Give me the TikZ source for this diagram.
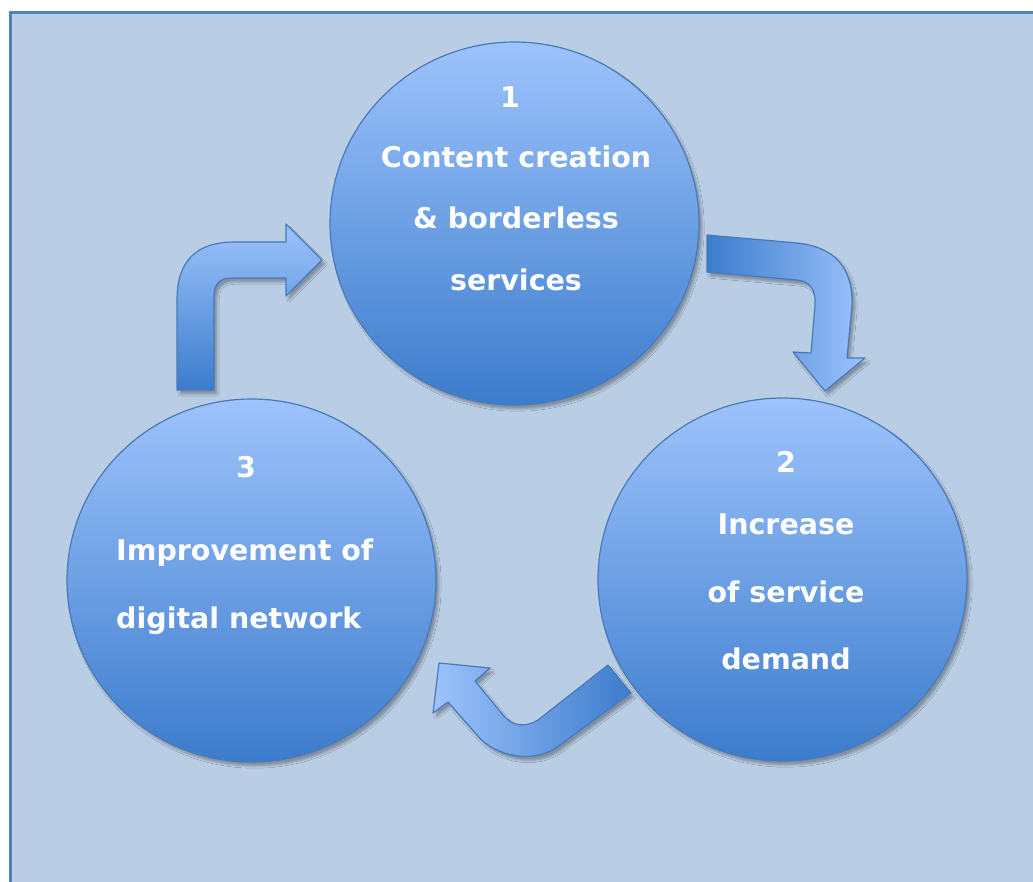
\documentclass[tikz,border=0pt]{standalone}
\usepackage{fontspec}
\setmainfont{DejaVu Sans}
\usetikzlibrary{shapes.geometric,shadows.blur}
\definecolor{blight}{RGB}{157,195,252}
\definecolor{bdark}{RGB}{60,124,204}
\definecolor{bline}{RGB}{72,122,186}
\definecolor{bgfill}{RGB}{185,205,228}
\definecolor{bgline}{RGB}{79,129,189}
\begin{document}
\begin{tikzpicture}[x=1pt,y=-1pt]

% size of each stage
\def\sw{369}
\def\sh{363}
% style definitions
\tikzstyle{stage} = [
	ellipse, draw=bline, line width=1.2pt,
	top color=blight, bottom color=bdark,
	minimum width=\sw pt, minimum height=\sh pt, inner sep=0pt,
	blur shadow={shadow xshift=3pt,shadow yshift=-4pt,shadow opacity=30} ];
\tikzstyle{cyclearrow} = [
	draw=bline, line width=1.2pt, line join=round,
	blur shadow={shadow xshift=3pt,shadow yshift=-4pt,shadow opacity=30} ];
\tikzstyle{num} = [text=white, inner sep=0pt, font=\bfseries\fontsize{28.5}{34}\selectfont];
\tikzset{txt/.style={text=white, inner sep=0pt, align=center,
	font=\bfseries\fontsize{28.5}{#1}\selectfont}}

\useasboundingbox (0,0) rectangle (1033,881);
\clip (0,0) rectangle (1033,881);

% frame
\draw[bgline, fill=bgfill, line width=3pt] (10,12) rectangle (1060,900);

% stages
\node[stage] (n1) at (514.5,223.5) {};
\node[stage] (n2) at (782.5,579.5) {};
\node[stage] (n3) at (251.5,580.5) {};

\node[num] (k1) at (510,97) {1};
\node[txt=61.5] (t1) at (516,218) {Content creation\\\& borderless\\services};

\node[num] (k2) at (786,462) {2};
\node[txt=67.5] (t2) at (786,592) {Increase\\of service\\demand};

\node[num] (k3) at (246,467) {3};
\node[txt=68, align=left, anchor=west] (t3) at (116,587) {Improvement of\\digital network};

% arrows between stages
\draw[cyclearrow, top color=blight, bottom color=bdark]
	(177,390) -- (177,300) .. controls (177,262) and (195,242) .. (235,242)
	-- (286,242) -- (286,224) -- (322,260) -- (286,296) -- (286,278)
	-- (232,278) .. controls (220,278) and (214,284) .. (214,296)
	-- (214,390) -- cycle;
\draw[cyclearrow, left color=bdark, right color=blight]
	(707,235) -- (797,243) .. controls (835,247) and (853,268) .. (852,305)
	-- (847,358) -- (865,358) -- (825,391) -- (793,352) -- (811,353)
	-- (815,305) .. controls (816,290) and (810,281) .. (797,280)
	-- (707,272) -- cycle;
\draw[cyclearrow, left color=blight, right color=bdark]
	(608,665) -- (538,720) .. controls (525,728) and (512,726) .. (503,715)
	-- (475,681) -- (490,668) -- (439,663) -- (433,713) -- (448,702)
	-- (477,735) .. controls (495,757) and (535,765) .. (560,745)
	-- (631,693) -- cycle;

\end{tikzpicture}
\end{document}
